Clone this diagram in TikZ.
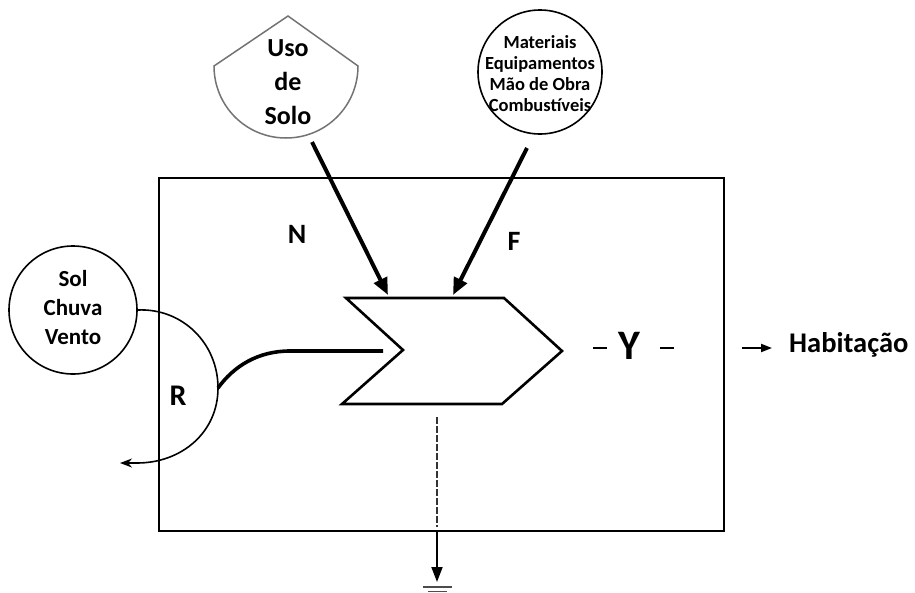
\documentclass[tikz,border=0pt]{standalone}
\usepackage{fontspec}
\setmainfont{Carlito}
\usetikzlibrary{arrows.meta}
\tikzset{
  lbl/.style={font=\fontsize{28}{30}\selectfont\bfseries, inner sep=0pt},
  srcbox/.style={draw=black, line width=1.6pt, circle},
  flow/.style={line width=4pt, -{Triangle[length=17pt,width=14pt]}},
  frame/.style={draw=black, line width=2pt},
  dashmark/.style={inner sep=0pt},
}
\begin{document}
\begin{tikzpicture}[x=1pt,y=-1pt]
\useasboundingbox (0,0) rectangle (915,592);

% system boundary
\draw[frame] (159,178) rectangle (724,531);

% energy sources
\coordinate (usotop) at (288,16);
\draw[draw=black!55, line width=1.5pt]
  (214,66) -- (usotop) -- (358,66)
  .. controls (358,106) and (326,138) .. (286,138)
  .. controls (246,138) and (214,106) .. (214,66) -- cycle;
\node[font=\fontsize{26}{34}\selectfont\bfseries, align=center, inner sep=0pt]
  (uso) at (288,82) {Uso\\de\\Solo};
\coordinate (usoout) at (312,142);

\node[srcbox, minimum size=124pt, inner sep=0pt] (mat) at (540,72) {};
\node[font=\fontsize{18.5}{21}\selectfont\bfseries, align=center, inner sep=0pt]
  (mattxt) at (540,74) {Materiais\\Equipamentos\\Mão de Obra\\Combustíveis};
\coordinate (matout) at (527,148);

\node[srcbox, minimum size=128pt, inner sep=0pt] (sol) at (73,310) {};
\node[font=\fontsize{23}{29}\selectfont\bfseries, align=center, inner sep=0pt]
  (soltxt) at (73,308) {Sol\\Chuva\\Vento};

% production unit
\coordinate (tl) at (346,298);
\coordinate (tr) at (504,298);
\coordinate (tip) at (562,351);
\coordinate (br) at (502,404);
\coordinate (bl) at (342,404);
\coordinate (notch) at (403,350);
\draw[line width=2.6pt, line join=miter] (tl) -- (tr) -- (tip) -- (br) -- (bl) -- (notch) -- cycle;
\coordinate (inN) at (388,295);
\coordinate (inF) at (453,295);
\coordinate (inR) at (383,351);
\coordinate (heat) at (437,417);

% inflows
\draw[flow] (usoout) -- (inN);
\draw[flow] (matout) -- (inF);

% renewable flow passing through
\coordinate (rmid) at (218,388);
\coordinate (rend) at (120,463);
\draw[line width=1.6pt, -{Stealth[length=12pt,width=9pt]}]
  (sol.east) .. controls (182,308) and (218,343) .. (rmid)
  .. controls (218,432) and (182,463) .. (137,463) -- (rend);
\draw[line width=3.6pt] (inR) -- (290,351) .. controls (258,351) and (234,366) .. (rmid);

% heat sink
\coordinate (bottomout) at (437,531);
\coordinate (sink) at (437,582);
\draw[draw=black!80, line width=2.4pt, dash pattern=on 7pt off 2pt] (heat) -- (437,527);
\draw[line width=1.8pt, -{Triangle[length=15pt,width=11pt]}] (bottomout) -- (sink);
\draw[line width=1.4pt, black!70] (423,587) -- (452,587);
\draw[line width=1.4pt, black!70] (428,591.5) -- (447,591.5);

% labels
\node[lbl] (lN) at (297,234) {N};
\node[lbl] (lF) at (514,241) {F};
\node[lbl, font=\fontsize{30}{32}\selectfont\bfseries] (lR) at (178,396) {R};
\node[font=\fontsize{42}{44}\selectfont\bfseries, inner sep=0pt] (lY) at (629,346) {Y};
\node[dashmark] (d1) at (600,348) {\rule{14pt}{2.6pt}};
\node[dashmark] (d2) at (667,348) {\rule{14pt}{2.6pt}};

% output
\node[font=\fontsize{28.5}{30}\selectfont\bfseries, inner sep=0pt, anchor=west] (hab) at (789,345) {Habitação};
\coordinate (outstart) at (742,348);
\draw[line width=2pt, -{Triangle[length=11pt,width=8pt]}] (outstart) -- (772,348);
\end{tikzpicture}
\end{document}
